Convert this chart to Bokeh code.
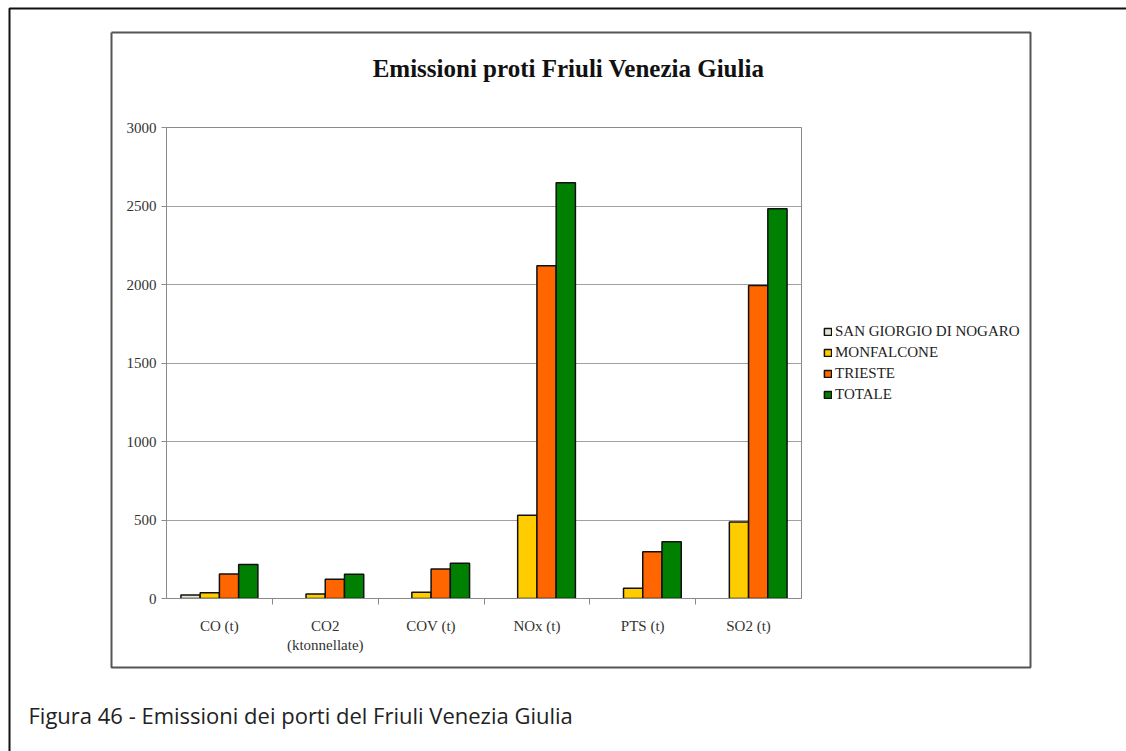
import numpy as np
from bokeh.plotting import figure
from bokeh.models import (ColumnDataSource, Range1d, FixedTicker, Legend, LegendItem)
from bokeh.transform import dodge
from bokeh.embed import file_html
from bokeh.resources import INLINE
from bokeh.core.properties import value

# ---- data ----
title_text = "Emissioni proti Friuli Venezia Giulia"
caption_text = "Figura 46 - Emissioni dei porti del Friuli Venezia Giulia"
categories = ["CO (t)", "CO2\n(ktonnellate)", "COV (t)", "NOx (t)", "PTS (t)", "SO2 (t)"]
series_names = ["SAN GIORGIO DI NOGARO", "MONFALCONE", "TRIESTE", "TOTALE"]
san_giorgio = [22, None, None, None, None, None]
monfalcone = [37, 28, 40, 530, 66, 488]
trieste = [156, 122, 188, 2120, 297, 1993]
totale = [216, 154, 224, 2648, 362, 2482]
y_ticks = [0, 500, 1000, 1500, 2000, 2500, 3000]

# ---- styles ----
colors = ["#E6E6D2", "#FFCC00", "#FF6600", "#008000"]
serif = "Liberation Serif"
W, H = 1126, 751
frame_l, frame_r, frame_t, frame_b = 166, 801, 127, 598  # canvas px

ncat = len(categories)
centers = [i + 0.5 for i in range(ncat)]          # category slot centres
bounds = [float(i) for i in range(1, ncat)]        # slot boundaries

p = figure(frame_width=frame_r - frame_l, frame_height=frame_b - frame_t,
           output_backend="svg", toolbar_location=None,
           x_range=Range1d(0, ncat), y_range=Range1d(0, 3000),
           min_border_left=frame_l, min_border_right=W - frame_r,
           min_border_top=frame_t, min_border_bottom=H - frame_b)
p.background_fill_color = "white"
p.border_fill_color = "white"
p.outline_line_color = "#8a8a8a"
p.outline_line_width = 1
p.xgrid.grid_line_color = None

# pixel-space ranges for page decorations (canvas px, y downward)
p.extra_x_ranges = {"px": Range1d(frame_l, frame_r)}
p.extra_y_ranges = {"py": Range1d(frame_b, frame_t)}

# bars
n = len(series_names)
bw = 1.0 / (n + 1.5)
all_vals = [san_giorgio, monfalcone, trieste, totale]
items = []
for i, (name, vals, col) in enumerate(zip(series_names, all_vals, colors)):
    src = ColumnDataSource(dict(x=centers, cat=categories,
                                val=np.array([np.nan if v is None else v for v in vals], dtype=float)))
    off = (i - (n - 1) / 2) * bw
    r = p.vbar(x=dodge("x", off), top="val", width=bw, source=src,
               fill_color=col, line_color="#111111", line_width=1.5)
    items.append(LegendItem(label=name, renderers=[r]))

# y axis
yt = FixedTicker(ticks=y_ticks, minor_ticks=[])
p.yaxis.ticker = yt
p.ygrid.ticker = yt
p.yaxis.axis_line_color = "#8a8a8a"
p.yaxis.major_tick_line_color = "#8a8a8a"
p.yaxis.major_tick_out = 5
p.yaxis.major_tick_in = 0
p.yaxis.minor_tick_line_color = None
p.yaxis.major_label_standoff = 5
p.yaxis.major_label_text_font = serif
p.yaxis.major_label_text_font_size = "15px"
p.yaxis.major_label_text_color = "#333333"
p.ygrid.grid_line_color = "#a0a0a0"
p.ygrid.grid_line_width = 1

# x axis: labels at slot centres, tick marks at slot boundaries
xa = p.xaxis[0]
xa.ticker = FixedTicker(ticks=centers, minor_ticks=bounds)
xa.major_label_overrides = {c: lab for c, lab in zip(centers, categories)}
xa.axis_line_color = "#8a8a8a"
xa.major_tick_line_color = None
xa.minor_tick_line_color = "#8a8a8a"
xa.minor_tick_out = 6
xa.minor_tick_in = 0
xa.major_label_standoff = 13
xa.major_label_text_font = serif
xa.major_label_text_font_size = "15px"
xa.major_label_text_color = "#333333"

# legend
legend = Legend(items=items, location="center_left", orientation="vertical",
                label_text_font=serif, label_text_font_size="15px", label_text_color="#222222",
                glyph_width=9, glyph_height=9, label_standoff=3, spacing=4, label_height=17,
                padding=0, margin=22, border_line_color=None, background_fill_alpha=0)
p.add_layout(legend, "right")

# page decorations drawn in canvas-pixel space on the overlay level
deco = dict(x_range_name="px", y_range_name="py", level="overlay")
p.line(x=[9, 9, 1400], y=[1000, 8, 8], line_color="#111111", line_width=2, **deco)
p.line(x=[111, 1030, 1030, 111, 111], y=[32, 32, 667, 667, 32],
       line_color="#555555", line_width=2, **deco)
p.text(x=[568], y=[68], text=[title_text], text_align="center", text_baseline="middle",
       text_font=value(serif), text_font_style="bold", text_font_size="25px",
       text_color="#111111", **deco)
p.text(x=[28], y=[714], text=[caption_text], text_align="left", text_baseline="middle",
       text_font=value("Open Sans"), text_font_size="22px", text_color="#222222", **deco)

open("out.html", "w").write(file_html(p, INLINE))
